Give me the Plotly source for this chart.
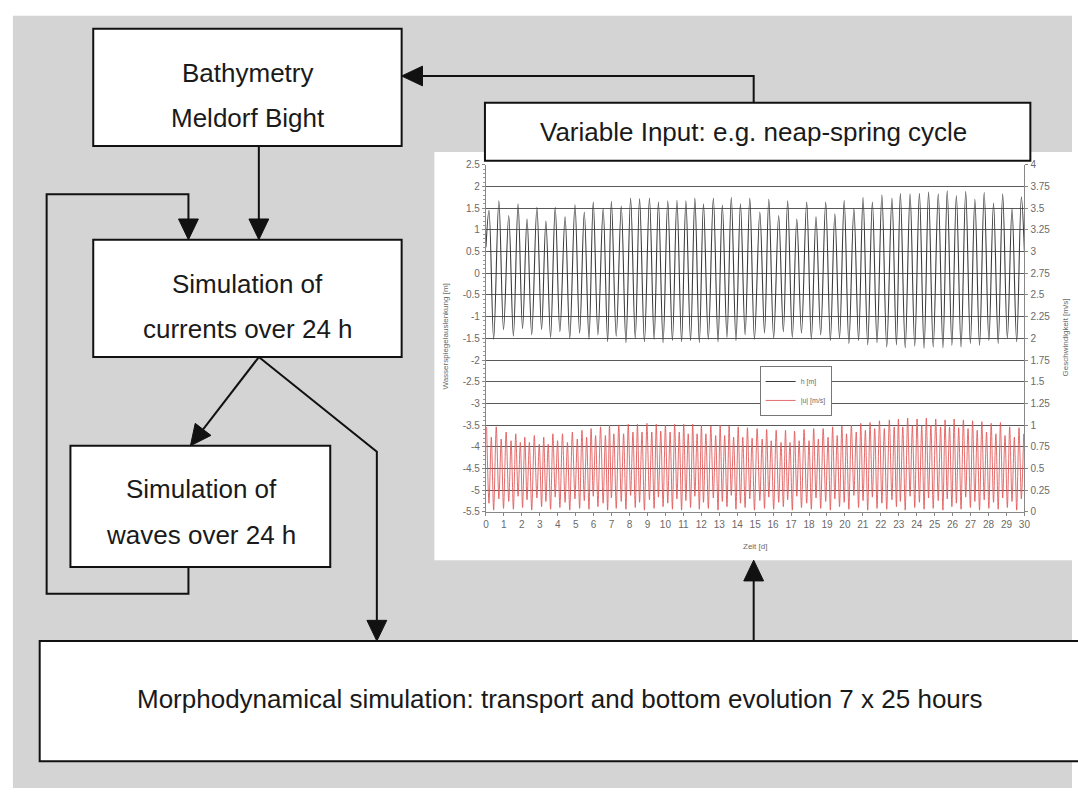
import plotly.graph_objects as go

W, H = 1078, 794

# ---------------- data ----------------
h_high_days = [0.17, 0.72, 1.27, 1.79, 2.29, 2.84, 3.34, 3.86, 4.41, 4.96,
               5.48, 5.98, 6.53, 6.99, 7.54, 8.06, 8.56, 9.11, 9.61, 10.13,
               10.64, 11.14, 11.64, 12.12, 12.67, 13.17, 13.67, 14.18, 14.70, 15.26,
               15.76, 16.31, 16.81, 17.32, 17.87, 18.39, 18.93, 19.44, 19.96, 20.50,
               21.01, 21.53, 22.06, 22.62, 23.09, 23.63, 24.15, 24.66, 25.20, 25.70,
               26.21, 26.73, 27.24, 27.76, 28.28, 28.79, 29.31, 29.83]
h_high_vals = [1.45, 1.67, 1.33, 1.60, 1.25, 1.52, 1.20, 1.52, 1.30, 1.58,
               1.41, 1.64, 1.49, 1.66, 1.55, 1.73, 1.72, 1.73, 1.64, 1.67,
               1.68, 1.67, 1.73, 1.60, 1.73, 1.57, 1.75, 1.60, 1.73, 1.41,
               1.71, 1.33, 1.67, 1.25, 1.64, 1.30, 1.64, 1.37, 1.68, 1.49,
               1.75, 1.64, 1.81, 1.73, 1.84, 1.83, 1.84, 1.87, 1.83, 1.90,
               1.79, 1.88, 1.71, 1.86, 1.62, 1.83, 1.49, 1.76]
h_low_days = [0.43, 0.98, 1.53, 2.04, 2.55, 3.10, 3.60, 4.12, 4.67, 5.22,
              5.74, 6.24, 6.78, 7.26, 7.80, 8.32, 8.83, 9.37, 9.87, 10.39,
              10.90, 11.40, 11.89, 12.39, 12.93, 13.43, 13.93, 14.44, 14.96, 15.52,
              16.03, 16.57, 17.07, 17.58, 18.13, 18.65, 19.19, 19.70, 20.22, 20.76,
              21.27, 21.79, 22.33, 22.87, 23.36, 23.89, 24.41, 24.92, 25.46, 25.96,
              26.47, 26.99, 27.50, 28.02, 28.54, 29.05, 29.57]
h_low_vals = [-1.52, -1.30, -1.45, -1.28, -1.42, -1.30, -1.48, -1.35, -1.50, -1.38,
              -1.52, -1.42, -1.58, -1.45, -1.60, -1.50, -1.58, -1.52, -1.60, -1.55,
              -1.58, -1.55, -1.60, -1.52, -1.58, -1.48, -1.55, -1.42, -1.52, -1.38,
              -1.50, -1.35, -1.48, -1.38, -1.52, -1.42, -1.55, -1.50, -1.62, -1.55,
              -1.65, -1.60, -1.70, -1.65, -1.72, -1.68, -1.73, -1.70, -1.72, -1.66,
              -1.70, -1.62, -1.66, -1.55, -1.62, -1.50, -1.58]
h_edge_days = [0.0, 30.0]
h_edge_vals = [0.6, 0.5]

u_peak_days = [0.04, 0.30, 0.575, 0.85, 1.125, 1.40, 1.66, 1.915,
               2.165, 2.42, 2.695, 2.97, 3.22, 3.47, 3.73, 3.99,
               4.265, 4.54, 4.815, 5.09, 5.35, 5.61, 5.86, 6.11,
               6.385, 6.655, 6.885, 7.125, 7.40, 7.67, 7.93, 8.19,
               8.44, 8.695, 8.97, 9.24, 9.49, 9.74, 10.00, 10.26,
               10.515, 10.77, 11.02, 11.27, 11.52, 11.765, 12.005, 12.255,
               12.53, 12.80, 13.05, 13.30, 13.55, 13.80, 14.055, 14.31,
               14.57, 14.83, 15.11, 15.39, 15.64, 15.895, 16.17, 16.44,
               16.69, 16.94, 17.195, 17.45, 17.725, 18.00, 18.26, 18.52,
               18.79, 19.06, 19.315, 19.57, 19.83, 20.09, 20.36, 20.63,
               20.885, 21.14, 21.40, 21.66, 21.925, 22.195, 22.475, 22.745,
               22.98, 23.225, 23.495, 23.76, 24.02, 24.28, 24.535, 24.79,
               25.06, 25.33, 25.58, 25.83, 26.085, 26.34, 26.60, 26.86,
               27.115, 27.37, 27.63, 27.89, 28.15, 28.41, 28.665, 28.92,
               29.18, 29.44, 29.70, 29.96]
u_peak_vals = [0.98, 0.86, 0.98, 0.84, 0.92, 0.82, 0.90, 0.80,
               0.86, 0.80, 0.88, 0.78, 0.86, 0.78, 0.90, 0.82,
               0.90, 0.80, 0.92, 0.84, 0.94, 0.86, 0.96, 0.88,
               0.98, 0.88, 1.00, 0.90, 1.00, 0.90, 1.01, 0.92,
               1.01, 0.92, 1.02, 0.92, 1.01, 0.93, 1.00, 0.92,
               1.01, 0.92, 1.01, 0.90, 1.01, 0.90, 1.00, 0.90,
               0.99, 0.88, 1.00, 0.88, 0.99, 0.86, 0.98, 0.86,
               0.97, 0.85, 0.96, 0.84, 0.95, 0.82, 0.94, 0.80,
               0.94, 0.80, 0.93, 0.82, 0.95, 0.82, 0.96, 0.84,
               0.96, 0.86, 0.98, 0.88, 0.99, 0.90, 1.00, 0.92,
               1.02, 0.94, 1.03, 0.96, 1.05, 0.96, 1.06, 0.98,
               1.07, 0.98, 1.08, 0.99, 1.07, 0.99, 1.08, 1.00,
               1.07, 0.98, 1.06, 0.98, 1.07, 0.97, 1.06, 0.96,
               1.05, 0.94, 1.04, 0.92, 1.02, 0.90, 1.03, 0.88,
               0.98, 0.86, 0.97, 0.90]
# |u| near slack water, at the times of high and low water
u_slack_vals = [0.10, 0.02, 0.15, 0.04, 0.12, 0.03, 0.18, 0.05, 0.14, 0.02,
                0.16, 0.06, 0.12, 0.03, 0.17, 0.05, 0.11, 0.02, 0.15, 0.04,
                0.13, 0.03, 0.18, 0.06, 0.10, 0.02, 0.16, 0.04, 0.12, 0.03,
                0.19, 0.05, 0.11, 0.02, 0.14, 0.04, 0.17, 0.06, 0.10, 0.03,
                0.15, 0.02, 0.13, 0.05, 0.18, 0.03, 0.11, 0.04, 0.16, 0.02,
                0.12, 0.06, 0.19, 0.03, 0.10, 0.05, 0.15, 0.02, 0.13, 0.04,
                0.17, 0.03, 0.11, 0.06, 0.14, 0.02, 0.18, 0.05, 0.10, 0.03,
                0.16, 0.04, 0.12, 0.02, 0.15, 0.06, 0.11, 0.03, 0.19, 0.05,
                0.13, 0.02, 0.17, 0.04, 0.10, 0.03, 0.14, 0.06, 0.12, 0.02,
                0.18, 0.05, 0.11, 0.03, 0.16, 0.04, 0.13, 0.02, 0.15, 0.06,
                0.10, 0.03, 0.17, 0.05, 0.12, 0.02, 0.14, 0.04, 0.11, 0.03,
                0.16, 0.05, 0.12, 0.02, 0.15]

x_ticks = list(range(0, 31))
y_left_ticks = [2.5, 2, 1.5, 1, 0.5, 0, -0.5, -1, -1.5, -2, -2.5, -3, -3.5, -4, -4.5, -5, -5.5]
y_right_ticks = [4, 3.75, 3.5, 3.25, 3, 2.75, 2.5, 2.25, 2, 1.75, 1.5, 1.25, 1, 0.75, 0.5, 0.25, 0]

box_texts = {
    "bathy": ["Bathymetry", "Meldorf Bight"],
    "curr": ["Simulation of", "currents over 24 h"],
    "waves": ["Simulation of", "waves over 24 h"],
    "input": ["Variable Input: e.g. neap-spring cycle"],
    "morph": ["Morphodynamical simulation: transport and bottom evolution 7 x 25 hours"],
}

# ---------------- series assembly ----------------
h_pts = sorted(zip(h_high_days + h_low_days + h_edge_days,
                   h_high_vals + h_low_vals + h_edge_vals))
h_x = [p[0] for p in h_pts]
h_y = [p[1] for p in h_pts]

ext_days = sorted(h_high_days + h_low_days)
u_pts = sorted(list(zip(u_peak_days, u_peak_vals)) + list(zip(ext_days, u_slack_vals)))
u_x = [p[0] for p in u_pts]
u_y = [p[1] for p in u_pts]

# ---------------- helpers (pixel -> paper) ----------------
def X(px):
    return px / W


def Y(py):
    return 1 - py / H


shapes = []


def rect(x0, y0, x1, y1, fill, lc=None, lw=0):
    shapes.append(dict(type="rect", xref="paper", yref="paper", layer="below",
                       x0=X(x0), x1=X(x1), y0=Y(y1), y1=Y(y0),
                       fillcolor=fill,
                       line=dict(color=lc or fill, width=lw)))


def polyline(pts, lw=2, color="#111"):
    d = "M " + " L ".join(f"{X(x):.5f},{Y(y):.5f}" for x, y in pts)
    shapes.append(dict(type="path", xref="paper", yref="paper", layer="below",
                       path=d, line=dict(color=color, width=lw)))


def arrowhead(tip, frm, length=21, half=10, color="#111"):
    tx, ty = tip
    fx, fy = frm
    dx, dy = tx - fx, ty - fy
    n = (dx * dx + dy * dy) ** 0.5
    ux, uy = dx / n, dy / n
    bx, by = tx - ux * length, ty - uy * length
    px_, py_ = -uy, ux
    p1 = (bx + px_ * half, by + py_ * half)
    p2 = (bx - px_ * half, by - py_ * half)
    d = (f"M {X(tx):.5f},{Y(ty):.5f} L {X(p1[0]):.5f},{Y(p1[1]):.5f} "
         f"L {X(p2[0]):.5f},{Y(p2[1]):.5f} Z")
    shapes.append(dict(type="path", xref="paper", yref="paper", layer="below",
                       path=d, fillcolor=color, line=dict(color=color, width=1)))
    return (bx, by)


# background
rect(10, 11, 1078, 794, "#d4d4d4")
# chart panel
rect(435, 149, 1078, 563, "#ffffff")

# boxes
BOX_LW = 2
rect(91, 24, 402, 143, "#ffffff", "#111", BOX_LW)      # bathymetry
rect(91, 238, 402, 357, "#ffffff", "#111", BOX_LW)     # currents
rect(68, 447, 330, 570, "#ffffff", "#111", BOX_LW)     # waves
rect(486, 99, 1036, 158, "#ffffff", "#111", BOX_LW)    # variable input
rect(37, 645, 1095, 767, "#ffffff", "#111", BOX_LW)    # morphodynamics

# connectors
b = arrowhead((402, 72), (757, 72))
polyline([(757, 99), (757, 72), b])
b = arrowhead((258, 238), (258, 143))
polyline([(258, 143), b])
b = arrowhead((187, 238), (187, 192))
polyline([(187, 570), (187, 597), (44, 597), (44, 192), (187, 192), b])
b = arrowhead((189, 447), (258, 357))
polyline([(258, 357), b])
b = arrowhead((377, 645), (377, 453))
polyline([(258, 357), (377, 453), b])
b = arrowhead((757, 563), (757, 645))
polyline([(757, 645), b])

# ---------------- figure ----------------
fig = go.Figure()
fig.add_trace(go.Scatter(x=h_x, y=h_y, name="h [m]", mode="lines",
                         line=dict(color="#3c3c3c", width=1.1, shape="spline", smoothing=1.0),
                         yaxis="y"))
fig.add_trace(go.Scatter(x=u_x, y=u_y, name="|u| [m/s]", mode="lines",
                         line=dict(color="#e25a5a", width=0.9, shape="spline", smoothing=0.8),
                         yaxis="y2"))

tick_font = dict(family="Liberation Sans, Arial, sans-serif", size=10, color="#6a6a6a")

annotations = []


def label(txt, x, y, size=26, color="#1a1a1a", angle=0):
    annotations.append(dict(text=txt, x=X(x), y=Y(y), xref="paper", yref="paper",
                            showarrow=False, xanchor="center", yanchor="middle",
                            textangle=angle,
                            font=dict(family="Liberation Sans, Arial, sans-serif",
                                      size=size, color=color)))


label(box_texts["bathy"][0], 247, 69)
label(box_texts["bathy"][1], 247, 115)
label(box_texts["curr"][0], 247, 283)
label(box_texts["curr"][1], 247, 329)
label(box_texts["waves"][0], 200, 491)
label(box_texts["waves"][1], 200, 537)
label(box_texts["input"][0], 757, 129)
label(box_texts["morph"][0], 561, 704)

label("Zeit [d]", 758, 549, size=8, color="#6a6a6a")
label("Wasserspiegelauslenkung [m]", 446, 336, size=8, color="#6a6a6a", angle=-90)
label("Geschwindigkeit [m/s]", 1071, 337, size=8, color="#6a6a6a", angle=-90)

fig.update_layout(
    width=W, height=H,
    margin=dict(l=0, r=0, t=0, b=0),
    paper_bgcolor="#ffffff",
    plot_bgcolor="rgba(0,0,0,0)",
    shapes=shapes,
    annotations=annotations,
    showlegend=True,
    legend=dict(x=X(763), y=Y(366), xanchor="left", yanchor="top",
                bgcolor="#ffffff", bordercolor="#777", borderwidth=1,
                font=dict(family="Liberation Sans, Arial, sans-serif", size=7, color="#6a6a6a"),
                itemwidth=30, tracegroupgap=0),
    xaxis=dict(domain=[X(487), X(1030)], range=[0, 30],
               tickvals=x_ticks, ticktext=[str(v) for v in x_ticks],
               ticks="outside", ticklen=3, tickcolor="#888",
               showline=True, linecolor="#888", linewidth=1,
               showgrid=False, zeroline=False, tickfont=tick_font,
               anchor="y", fixedrange=True),
    yaxis=dict(domain=[Y(514), Y(162)], range=[-5.5, 2.5],
               tickvals=y_left_ticks, ticktext=[f"{v:g}" for v in y_left_ticks],
               ticks="outside", ticklen=3, tickcolor="#888",
               showline=True, linecolor="#888", linewidth=1,
               showgrid=True, gridcolor="#5a5a5a", gridwidth=1,
               zeroline=False, tickfont=tick_font,
               minor=dict(ticks="outside", ticklen=2, dtick=0.1, tickcolor="#999", showgrid=False),
               anchor="x", fixedrange=True),
    yaxis2=dict(overlaying="y", side="right", range=[0, 4],
                tickvals=y_right_ticks, ticktext=[f"{v:g}" for v in y_right_ticks],
                ticks="outside", ticklen=3, tickcolor="#888",
                showline=True, linecolor="#888", linewidth=1,
                showgrid=False, zeroline=False, tickfont=tick_font,
                anchor="x", fixedrange=True),
)

fig.write_html("out.html", config=dict(displayModeBar=False))
